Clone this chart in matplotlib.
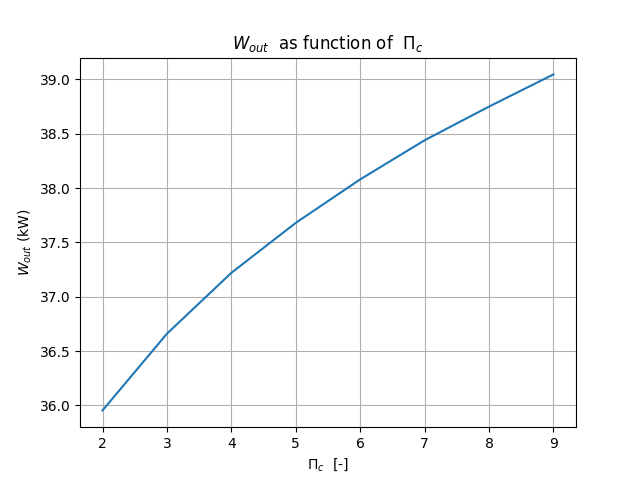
import matplotlib
matplotlib.use("Agg")
import matplotlib.pyplot as plt

pi_c = [2, 3, 4, 5, 6, 7, 8, 9]
w_out = [35.954, 36.66, 37.22, 37.68, 38.08, 38.44, 38.75, 39.046]

fig, ax = plt.subplots(figsize=(6.4, 4.8), dpi=100)
ax.plot(pi_c, w_out, color="#1f77b4")
ax.grid(True)
ax.set_title(r"$W_{out}$  as function of  $\Pi_c$")
ax.set_xlabel(r"$\Pi_c$  [-]")
ax.set_ylabel(r"$W_{out}$ (kW)")
fig.savefig("out.png")
